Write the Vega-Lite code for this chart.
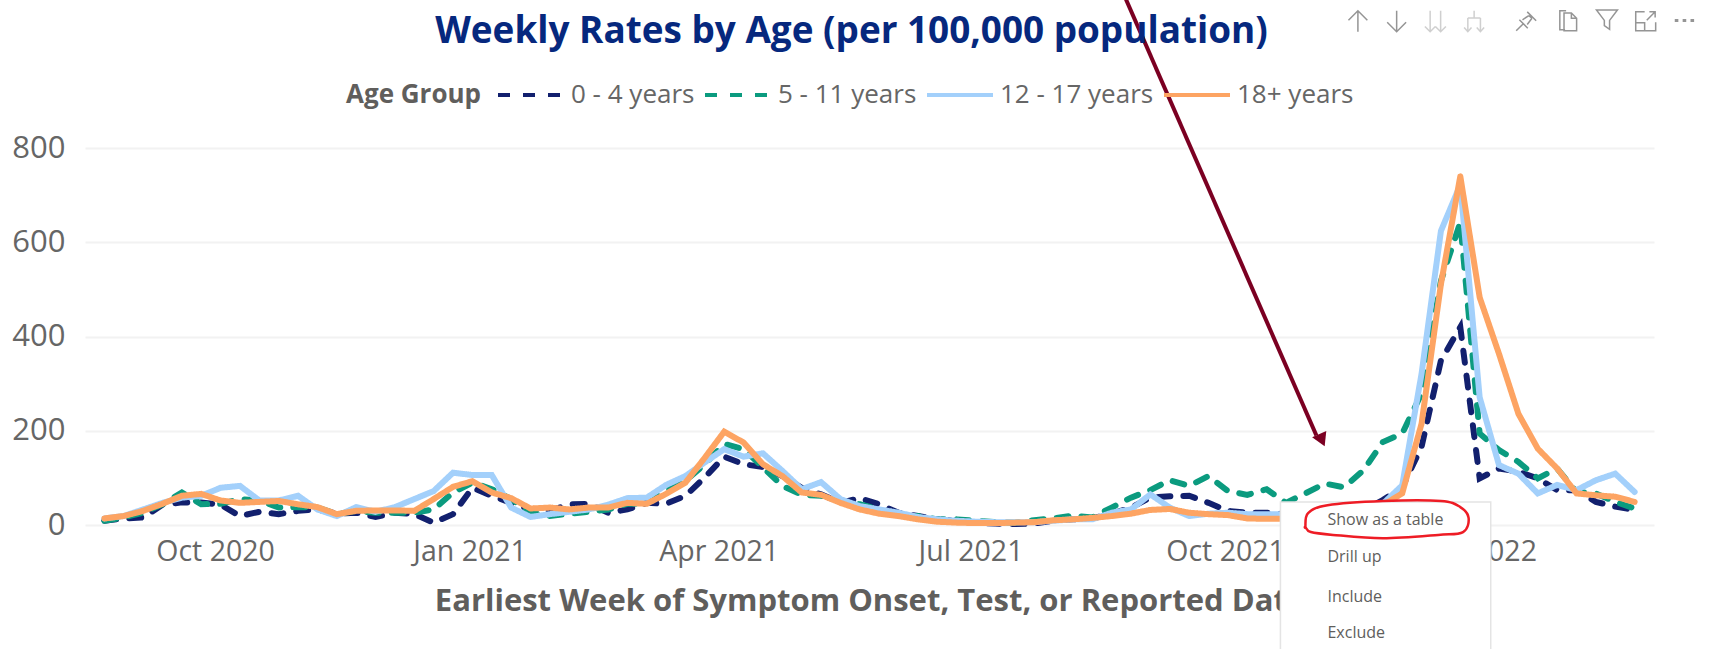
{"$schema":"https://vega.github.io/schema/vega-lite/v6.json","autosize":{"type":"none"},"width":1569,"height":377,"padding":{"left":85,"top":148,"right":75,"bottom":124},"background":"#ffffff",
"title":{"text":"Weekly Rates by Age (per 100,000 population)","font":"Open Sans","fontSize":36.9,"fontWeight":"bold","color":"#06287e","anchor":"middle","dx":-18,"offset":-55},
"config":{"view":{"stroke":null},"font":"Open Sans"},
"encoding":{
"x":{"field":"date","type":"temporal","scale":{"type":"utc","domain":["2020-08-15","2022-03-05"]},"title":"Earliest Week of Symptom Onset, Test, or Reported Date","axis":{"values":["2020-10-01","2021-01-01","2021-04-01","2021-07-01","2021-10-01","2022-01-01"],"format":"%b %Y","grid":false,"domain":false,"ticks":false,"labelFontSize":28.5,"labelColor":"#666666","labelFont":"Open Sans","labelPadding":12,"titleFontSize":31,"titleFontWeight":"bold","titleColor":"#605e5c","titleFont":"Open Sans","titlePadding":21,"labelFlush":false}},
"y":{"field":"value","type":"quantitative","scale":{"domain":[0,800],"nice":false},"title":null,"axis":{"values":[0,200,400,600,800],"domain":false,"ticks":false,"grid":true,"gridColor":"#f2f2f2","gridWidth":2,"labelFontSize":31,"labelColor":"#666666","labelFont":"Open Sans","labelPadding":20}}
},
"layer":[
{"data":{"values":[
{"date":"2020-08-22","age":"0 - 4 years","value":9},{"date":"2020-08-29","age":"0 - 4 years","value":14},{"date":"2020-09-05","age":"0 - 4 years","value":16},{"date":"2020-09-12","age":"0 - 4 years","value":43},{"date":"2020-09-19","age":"0 - 4 years","value":48},{"date":"2020-09-26","age":"0 - 4 years","value":48},{"date":"2020-10-03","age":"0 - 4 years","value":43},{"date":"2020-10-10","age":"0 - 4 years","value":19},{"date":"2020-10-17","age":"0 - 4 years","value":28},{"date":"2020-10-24","age":"0 - 4 years","value":23},{"date":"2020-10-31","age":"0 - 4 years","value":30},{"date":"2020-11-07","age":"0 - 4 years","value":33},{"date":"2020-11-14","age":"0 - 4 years","value":24},{"date":"2020-11-21","age":"0 - 4 years","value":26},{"date":"2020-11-28","age":"0 - 4 years","value":17},{"date":"2020-12-05","age":"0 - 4 years","value":26},{"date":"2020-12-12","age":"0 - 4 years","value":23},{"date":"2020-12-19","age":"0 - 4 years","value":5},{"date":"2020-12-26","age":"0 - 4 years","value":23},{"date":"2021-01-02","age":"0 - 4 years","value":79},{"date":"2021-01-09","age":"0 - 4 years","value":62},{"date":"2021-01-16","age":"0 - 4 years","value":47},{"date":"2021-01-23","age":"0 - 4 years","value":33},{"date":"2021-01-30","age":"0 - 4 years","value":30},{"date":"2021-02-06","age":"0 - 4 years","value":44},{"date":"2021-02-13","age":"0 - 4 years","value":45},{"date":"2021-02-20","age":"0 - 4 years","value":26},{"date":"2021-02-27","age":"0 - 4 years","value":33},{"date":"2021-03-06","age":"0 - 4 years","value":47},{"date":"2021-03-13","age":"0 - 4 years","value":45},{"date":"2021-03-20","age":"0 - 4 years","value":62},{"date":"2021-03-27","age":"0 - 4 years","value":101},{"date":"2021-04-03","age":"0 - 4 years","value":145},{"date":"2021-04-10","age":"0 - 4 years","value":129},{"date":"2021-04-17","age":"0 - 4 years","value":123},{"date":"2021-04-24","age":"0 - 4 years","value":104},{"date":"2021-05-01","age":"0 - 4 years","value":79},{"date":"2021-05-08","age":"0 - 4 years","value":65},{"date":"2021-05-15","age":"0 - 4 years","value":47},{"date":"2021-05-22","age":"0 - 4 years","value":57},{"date":"2021-05-29","age":"0 - 4 years","value":44},{"date":"2021-06-05","age":"0 - 4 years","value":26},{"date":"2021-06-12","age":"0 - 4 years","value":19},{"date":"2021-06-19","age":"0 - 4 years","value":12},{"date":"2021-06-26","age":"0 - 4 years","value":9},{"date":"2021-07-03","age":"0 - 4 years","value":5},{"date":"2021-07-10","age":"0 - 4 years","value":3},{"date":"2021-07-17","age":"0 - 4 years","value":2},{"date":"2021-07-24","age":"0 - 4 years","value":3},{"date":"2021-07-31","age":"0 - 4 years","value":9},{"date":"2021-08-07","age":"0 - 4 years","value":12},{"date":"2021-08-14","age":"0 - 4 years","value":14},{"date":"2021-08-21","age":"0 - 4 years","value":24},{"date":"2021-08-28","age":"0 - 4 years","value":37},{"date":"2021-09-04","age":"0 - 4 years","value":58},{"date":"2021-09-11","age":"0 - 4 years","value":61},{"date":"2021-09-18","age":"0 - 4 years","value":62},{"date":"2021-09-25","age":"0 - 4 years","value":47},{"date":"2021-10-02","age":"0 - 4 years","value":30},{"date":"2021-10-09","age":"0 - 4 years","value":26},{"date":"2021-10-16","age":"0 - 4 years","value":26},{"date":"2021-10-23","age":"0 - 4 years","value":23},{"date":"2021-10-30","age":"0 - 4 years","value":20},{"date":"2021-11-06","age":"0 - 4 years","value":18},{"date":"2021-11-13","age":"0 - 4 years","value":20},{"date":"2021-11-20","age":"0 - 4 years","value":30},{"date":"2021-11-27","age":"0 - 4 years","value":53},{"date":"2021-12-04","age":"0 - 4 years","value":80},{"date":"2021-12-11","age":"0 - 4 years","value":166},{"date":"2021-12-18","age":"0 - 4 years","value":349},{"date":"2021-12-25","age":"0 - 4 years","value":420},{"date":"2022-01-01","age":"0 - 4 years","value":99},{"date":"2022-01-08","age":"0 - 4 years","value":120},{"date":"2022-01-15","age":"0 - 4 years","value":113},{"date":"2022-01-22","age":"0 - 4 years","value":99},{"date":"2022-01-29","age":"0 - 4 years","value":74},{"date":"2022-02-05","age":"0 - 4 years","value":74},{"date":"2022-02-12","age":"0 - 4 years","value":49},{"date":"2022-02-19","age":"0 - 4 years","value":39},{"date":"2022-02-26","age":"0 - 4 years","value":32},
{"date":"2020-08-22","age":"5 - 11 years","value":9},{"date":"2020-08-29","age":"5 - 11 years","value":16},{"date":"2020-09-05","age":"5 - 11 years","value":26},{"date":"2020-09-12","age":"5 - 11 years","value":44},{"date":"2020-09-19","age":"5 - 11 years","value":69},{"date":"2020-09-26","age":"5 - 11 years","value":44},{"date":"2020-10-03","age":"5 - 11 years","value":45},{"date":"2020-10-10","age":"5 - 11 years","value":55},{"date":"2020-10-17","age":"5 - 11 years","value":52},{"date":"2020-10-24","age":"5 - 11 years","value":37},{"date":"2020-10-31","age":"5 - 11 years","value":38},{"date":"2020-11-07","age":"5 - 11 years","value":37},{"date":"2020-11-14","age":"5 - 11 years","value":23},{"date":"2020-11-21","age":"5 - 11 years","value":30},{"date":"2020-11-28","age":"5 - 11 years","value":26},{"date":"2020-12-05","age":"5 - 11 years","value":26},{"date":"2020-12-12","age":"5 - 11 years","value":26},{"date":"2020-12-19","age":"5 - 11 years","value":33},{"date":"2020-12-26","age":"5 - 11 years","value":69},{"date":"2021-01-02","age":"5 - 11 years","value":90},{"date":"2021-01-09","age":"5 - 11 years","value":76},{"date":"2021-01-16","age":"5 - 11 years","value":55},{"date":"2021-01-23","age":"5 - 11 years","value":26},{"date":"2021-01-30","age":"5 - 11 years","value":19},{"date":"2021-02-06","age":"5 - 11 years","value":24},{"date":"2021-02-13","age":"5 - 11 years","value":28},{"date":"2021-02-20","age":"5 - 11 years","value":33},{"date":"2021-02-27","age":"5 - 11 years","value":45},{"date":"2021-03-06","age":"5 - 11 years","value":45},{"date":"2021-03-13","age":"5 - 11 years","value":72},{"date":"2021-03-20","age":"5 - 11 years","value":94},{"date":"2021-03-27","age":"5 - 11 years","value":129},{"date":"2021-04-03","age":"5 - 11 years","value":172},{"date":"2021-04-10","age":"5 - 11 years","value":161},{"date":"2021-04-17","age":"5 - 11 years","value":122},{"date":"2021-04-24","age":"5 - 11 years","value":83},{"date":"2021-05-01","age":"5 - 11 years","value":64},{"date":"2021-05-08","age":"5 - 11 years","value":62},{"date":"2021-05-15","age":"5 - 11 years","value":51},{"date":"2021-05-22","age":"5 - 11 years","value":44},{"date":"2021-05-29","age":"5 - 11 years","value":33},{"date":"2021-06-05","age":"5 - 11 years","value":19},{"date":"2021-06-12","age":"5 - 11 years","value":19},{"date":"2021-06-19","age":"5 - 11 years","value":12},{"date":"2021-06-26","age":"5 - 11 years","value":12},{"date":"2021-07-03","age":"5 - 11 years","value":9},{"date":"2021-07-10","age":"5 - 11 years","value":6},{"date":"2021-07-17","age":"5 - 11 years","value":5},{"date":"2021-07-24","age":"5 - 11 years","value":10},{"date":"2021-07-31","age":"5 - 11 years","value":14},{"date":"2021-08-07","age":"5 - 11 years","value":20},{"date":"2021-08-14","age":"5 - 11 years","value":16},{"date":"2021-08-21","age":"5 - 11 years","value":37},{"date":"2021-08-28","age":"5 - 11 years","value":58},{"date":"2021-09-04","age":"5 - 11 years","value":74},{"date":"2021-09-11","age":"5 - 11 years","value":95},{"date":"2021-09-18","age":"5 - 11 years","value":83},{"date":"2021-09-25","age":"5 - 11 years","value":104},{"date":"2021-10-02","age":"5 - 11 years","value":72},{"date":"2021-10-09","age":"5 - 11 years","value":64},{"date":"2021-10-16","age":"5 - 11 years","value":76},{"date":"2021-10-23","age":"5 - 11 years","value":47},{"date":"2021-10-30","age":"5 - 11 years","value":67},{"date":"2021-11-06","age":"5 - 11 years","value":88},{"date":"2021-11-13","age":"5 - 11 years","value":80},{"date":"2021-11-20","age":"5 - 11 years","value":116},{"date":"2021-11-27","age":"5 - 11 years","value":176},{"date":"2021-12-04","age":"5 - 11 years","value":194},{"date":"2021-12-11","age":"5 - 11 years","value":279},{"date":"2021-12-18","age":"5 - 11 years","value":518},{"date":"2021-12-25","age":"5 - 11 years","value":642},{"date":"2022-01-01","age":"5 - 11 years","value":194},{"date":"2022-01-08","age":"5 - 11 years","value":159},{"date":"2022-01-15","age":"5 - 11 years","value":134},{"date":"2022-01-22","age":"5 - 11 years","value":99},{"date":"2022-01-29","age":"5 - 11 years","value":120},{"date":"2022-02-05","age":"5 - 11 years","value":70},{"date":"2022-02-12","age":"5 - 11 years","value":67},{"date":"2022-02-19","age":"5 - 11 years","value":49},{"date":"2022-02-26","age":"5 - 11 years","value":35},
{"date":"2020-08-22","age":"12 - 17 years","value":14},{"date":"2020-08-29","age":"12 - 17 years","value":19},{"date":"2020-09-05","age":"12 - 17 years","value":33},{"date":"2020-09-12","age":"12 - 17 years","value":47},{"date":"2020-09-19","age":"12 - 17 years","value":58},{"date":"2020-09-26","age":"12 - 17 years","value":62},{"date":"2020-10-03","age":"12 - 17 years","value":79},{"date":"2020-10-10","age":"12 - 17 years","value":83},{"date":"2020-10-17","age":"12 - 17 years","value":52},{"date":"2020-10-24","age":"12 - 17 years","value":52},{"date":"2020-10-31","age":"12 - 17 years","value":62},{"date":"2020-11-07","age":"12 - 17 years","value":33},{"date":"2020-11-14","age":"12 - 17 years","value":19},{"date":"2020-11-21","age":"12 - 17 years","value":38},{"date":"2020-11-28","age":"12 - 17 years","value":28},{"date":"2020-12-05","age":"12 - 17 years","value":38},{"date":"2020-12-12","age":"12 - 17 years","value":55},{"date":"2020-12-19","age":"12 - 17 years","value":72},{"date":"2020-12-26","age":"12 - 17 years","value":111},{"date":"2021-01-02","age":"12 - 17 years","value":106},{"date":"2021-01-09","age":"12 - 17 years","value":106},{"date":"2021-01-16","age":"12 - 17 years","value":37},{"date":"2021-01-23","age":"12 - 17 years","value":17},{"date":"2021-01-30","age":"12 - 17 years","value":23},{"date":"2021-02-06","age":"12 - 17 years","value":28},{"date":"2021-02-13","age":"12 - 17 years","value":33},{"date":"2021-02-20","age":"12 - 17 years","value":43},{"date":"2021-02-27","age":"12 - 17 years","value":57},{"date":"2021-03-06","age":"12 - 17 years","value":58},{"date":"2021-03-13","age":"12 - 17 years","value":85},{"date":"2021-03-20","age":"12 - 17 years","value":104},{"date":"2021-03-27","age":"12 - 17 years","value":133},{"date":"2021-04-03","age":"12 - 17 years","value":161},{"date":"2021-04-10","age":"12 - 17 years","value":145},{"date":"2021-04-17","age":"12 - 17 years","value":152},{"date":"2021-04-24","age":"12 - 17 years","value":115},{"date":"2021-05-01","age":"12 - 17 years","value":76},{"date":"2021-05-08","age":"12 - 17 years","value":91},{"date":"2021-05-15","age":"12 - 17 years","value":55},{"date":"2021-05-22","age":"12 - 17 years","value":40},{"date":"2021-05-29","age":"12 - 17 years","value":33},{"date":"2021-06-05","age":"12 - 17 years","value":26},{"date":"2021-06-12","age":"12 - 17 years","value":17},{"date":"2021-06-19","age":"12 - 17 years","value":12},{"date":"2021-06-26","age":"12 - 17 years","value":9},{"date":"2021-07-03","age":"12 - 17 years","value":7},{"date":"2021-07-10","age":"12 - 17 years","value":6},{"date":"2021-07-17","age":"12 - 17 years","value":6},{"date":"2021-07-24","age":"12 - 17 years","value":6},{"date":"2021-07-31","age":"12 - 17 years","value":9},{"date":"2021-08-07","age":"12 - 17 years","value":12},{"date":"2021-08-14","age":"12 - 17 years","value":12},{"date":"2021-08-21","age":"12 - 17 years","value":26},{"date":"2021-08-28","age":"12 - 17 years","value":33},{"date":"2021-09-04","age":"12 - 17 years","value":65},{"date":"2021-09-11","age":"12 - 17 years","value":37},{"date":"2021-09-18","age":"12 - 17 years","value":19},{"date":"2021-09-25","age":"12 - 17 years","value":24},{"date":"2021-10-02","age":"12 - 17 years","value":26},{"date":"2021-10-09","age":"12 - 17 years","value":23},{"date":"2021-10-16","age":"12 - 17 years","value":23},{"date":"2021-10-23","age":"12 - 17 years","value":23},{"date":"2021-10-30","age":"12 - 17 years","value":22},{"date":"2021-11-06","age":"12 - 17 years","value":22},{"date":"2021-11-13","age":"12 - 17 years","value":24},{"date":"2021-11-20","age":"12 - 17 years","value":32},{"date":"2021-11-27","age":"12 - 17 years","value":45},{"date":"2021-12-04","age":"12 - 17 years","value":84},{"date":"2021-12-11","age":"12 - 17 years","value":321},{"date":"2021-12-18","age":"12 - 17 years","value":624},{"date":"2021-12-25","age":"12 - 17 years","value":722},{"date":"2022-01-01","age":"12 - 17 years","value":271},{"date":"2022-01-08","age":"12 - 17 years","value":127},{"date":"2022-01-15","age":"12 - 17 years","value":109},{"date":"2022-01-22","age":"12 - 17 years","value":67},{"date":"2022-01-29","age":"12 - 17 years","value":85},{"date":"2022-02-05","age":"12 - 17 years","value":74},{"date":"2022-02-12","age":"12 - 17 years","value":95},{"date":"2022-02-19","age":"12 - 17 years","value":109},{"date":"2022-02-26","age":"12 - 17 years","value":70},
{"date":"2020-08-22","age":"18+ years","value":14},{"date":"2020-08-29","age":"18+ years","value":19},{"date":"2020-09-05","age":"18+ years","value":30},{"date":"2020-09-12","age":"18+ years","value":45},{"date":"2020-09-19","age":"18+ years","value":62},{"date":"2020-09-26","age":"18+ years","value":66},{"date":"2020-10-03","age":"18+ years","value":52},{"date":"2020-10-10","age":"18+ years","value":47},{"date":"2020-10-17","age":"18+ years","value":49},{"date":"2020-10-24","age":"18+ years","value":51},{"date":"2020-10-31","age":"18+ years","value":44},{"date":"2020-11-07","age":"18+ years","value":38},{"date":"2020-11-14","age":"18+ years","value":23},{"date":"2020-11-21","age":"18+ years","value":30},{"date":"2020-11-28","age":"18+ years","value":31},{"date":"2020-12-05","age":"18+ years","value":31},{"date":"2020-12-12","age":"18+ years","value":30},{"date":"2020-12-19","age":"18+ years","value":55},{"date":"2020-12-26","age":"18+ years","value":81},{"date":"2021-01-02","age":"18+ years","value":93},{"date":"2021-01-09","age":"18+ years","value":69},{"date":"2021-01-16","age":"18+ years","value":57},{"date":"2021-01-23","age":"18+ years","value":35},{"date":"2021-01-30","age":"18+ years","value":37},{"date":"2021-02-06","age":"18+ years","value":33},{"date":"2021-02-13","age":"18+ years","value":37},{"date":"2021-02-20","age":"18+ years","value":37},{"date":"2021-02-27","age":"18+ years","value":47},{"date":"2021-03-06","age":"18+ years","value":45},{"date":"2021-03-13","age":"18+ years","value":66},{"date":"2021-03-20","age":"18+ years","value":90},{"date":"2021-03-27","age":"18+ years","value":143},{"date":"2021-04-03","age":"18+ years","value":198},{"date":"2021-04-10","age":"18+ years","value":175},{"date":"2021-04-17","age":"18+ years","value":129},{"date":"2021-04-24","age":"18+ years","value":104},{"date":"2021-05-01","age":"18+ years","value":69},{"date":"2021-05-08","age":"18+ years","value":64},{"date":"2021-05-15","age":"18+ years","value":47},{"date":"2021-05-22","age":"18+ years","value":33},{"date":"2021-05-29","age":"18+ years","value":24},{"date":"2021-06-05","age":"18+ years","value":19},{"date":"2021-06-12","age":"18+ years","value":12},{"date":"2021-06-19","age":"18+ years","value":7},{"date":"2021-06-26","age":"18+ years","value":5},{"date":"2021-07-03","age":"18+ years","value":4},{"date":"2021-07-10","age":"18+ years","value":4},{"date":"2021-07-17","age":"18+ years","value":5},{"date":"2021-07-24","age":"18+ years","value":6},{"date":"2021-07-31","age":"18+ years","value":10},{"date":"2021-08-07","age":"18+ years","value":12},{"date":"2021-08-14","age":"18+ years","value":15},{"date":"2021-08-21","age":"18+ years","value":19},{"date":"2021-08-28","age":"18+ years","value":24},{"date":"2021-09-04","age":"18+ years","value":32},{"date":"2021-09-11","age":"18+ years","value":34},{"date":"2021-09-18","age":"18+ years","value":26},{"date":"2021-09-25","age":"18+ years","value":23},{"date":"2021-10-02","age":"18+ years","value":21},{"date":"2021-10-09","age":"18+ years","value":14},{"date":"2021-10-16","age":"18+ years","value":13},{"date":"2021-10-23","age":"18+ years","value":13},{"date":"2021-10-30","age":"18+ years","value":13},{"date":"2021-11-06","age":"18+ years","value":14},{"date":"2021-11-13","age":"18+ years","value":17},{"date":"2021-11-20","age":"18+ years","value":25},{"date":"2021-11-27","age":"18+ years","value":42},{"date":"2021-12-04","age":"18+ years","value":67},{"date":"2021-12-11","age":"18+ years","value":215},{"date":"2021-12-18","age":"18+ years","value":511},{"date":"2021-12-25","age":"18+ years","value":740},{"date":"2022-01-01","age":"18+ years","value":483},{"date":"2022-01-08","age":"18+ years","value":363},{"date":"2022-01-15","age":"18+ years","value":236},{"date":"2022-01-22","age":"18+ years","value":162},{"date":"2022-01-29","age":"18+ years","value":120},{"date":"2022-02-05","age":"18+ years","value":67},{"date":"2022-02-12","age":"18+ years","value":63},{"date":"2022-02-19","age":"18+ years","value":60},{"date":"2022-02-26","age":"18+ years","value":49}
]},
"mark":{"type":"line","strokeWidth":6,"strokeCap":"round","strokeJoin":"miter","clip":false},
"encoding":{
"color":{"field":"age","type":"nominal","scale":{"domain":["0 - 4 years","5 - 11 years","12 - 17 years","18+ years"],"range":["#12206e","#0b9b7f","#a3d0fb","#fda463"]},"legend":{"orient":"none","legendX":261,"legendY":-66,"direction":"horizontal","title":"Age Group","titleOrient":"left","titleFont":"Open Sans","titleFontSize":26,"titleFontWeight":"bold","titleColor":"#605e5c","labelFont":"Open Sans","labelFontSize":26,"labelColor":"#666666","symbolType":"M-3,0L3,0","symbolSize":484,"symbolStrokeWidth":4,"labelOffset":27,"columnPadding":2,"titlePadding":36,"labelLimit":300}},
"strokeDash":{"field":"age","type":"nominal","scale":{"domain":["0 - 4 years","5 - 11 years","12 - 17 years","18+ years"],"range":[[12,13],[12,13],[1,0],[1,0]]}}
}},
{"data":{"values":[{"date":"2021-10-21","value":49,"date2":"2022-01-05","value2":-300}]},"mark":{"type":"rect","fill":"#ffffff","stroke":"#e4e4e4","strokeWidth":1.5,"clip":false},"encoding":{"x2":{"field":"date2"},"y2":{"field":"value2"}}},
{"data":{"values":[{"date":"2021-11-07","value":10.6,"item":"Show as a table"},{"date":"2021-11-07","value":-68,"item":"Drill up"},{"date":"2021-11-07","value":-153,"item":"Include"},{"date":"2021-11-07","value":-229,"item":"Exclude"}]},"mark":{"type":"text","align":"left","baseline":"middle","font":"Open Sans","fontSize":16,"color":"#605e5c","clip":false},"encoding":{"text":{"field":"item"}}},
{"data":{"values":[{"k":1,"date":"2021-10-30","value":-4},{"k":2,"date":"2021-10-31","value":25},{"k":3,"date":"2021-11-07","value":42},{"k":4,"date":"2021-11-27","value":51},{"k":5,"date":"2021-12-18","value":51},{"k":6,"date":"2021-12-25","value":38},{"k":7,"date":"2021-12-28","value":15},{"k":8,"date":"2021-12-26","value":-15},{"k":9,"date":"2021-12-17","value":-21},{"k":10,"date":"2021-11-27","value":-28},{"k":11,"date":"2021-11-09","value":-21},{"k":12,"date":"2021-11-01","value":-15},{"k":13,"date":"2021-10-30","value":-4}]},"mark":{"type":"line","color":"#ee1c25","strokeWidth":2.5,"interpolate":"cardinal-closed","clip":false},"encoding":{"order":{"field":"k","type":"quantitative"}}},
{"data":{"values":[{"date":"2021-08-26","value":1118,"date2":"2021-11-03","value2":190}]},"mark":{"type":"rule","color":"#7b0022","strokeWidth":4,"clip":false},"encoding":{"x2":{"field":"date2"},"y2":{"field":"value2"}}},
{"data":{"values":[{"date":"2021-11-05","value":180}]},"mark":{"type":"point","shape":"triangle-down","angle":336,"size":240,"filled":true,"fill":"#7b0022","stroke":null,"opacity":1,"clip":false}},
{"data":{"values":[{"date":"2021-11-18","value":1069,"icon":"up","state":"on"},{"date":"2021-12-02","value":1069,"icon":"down","state":"on"},{"date":"2021-12-16","value":1069,"icon":"double","state":"off"},{"date":"2021-12-30","value":1069,"icon":"drill","state":"off"},{"date":"2022-01-18","value":1071,"icon":"pin","state":"on"},{"date":"2022-02-02","value":1071,"icon":"copy","state":"on"},{"date":"2022-02-16","value":1073,"icon":"funnel","state":"on"},{"date":"2022-03-02","value":1069,"icon":"focus","state":"on"},{"date":"2022-03-16","value":1071,"icon":"dots","state":"on"}]},
"mark":{"type":"point","filled":false,"size":441,"stroke":"#8a8a8a","strokeWidth":1.5,"clip":false},
"encoding":{"shape":{"field":"icon","type":"nominal","legend":null,"scale":{"domain":["up","down","double","drill","pin","copy","funnel","focus","dots"],"range":["M0,1L0,-1M-.9,-.1L0,-1L.9,-.1","M0,-1L0,1M-.9,.1L0,1L.9,.1","M-.5,-1L-.5,1M-1,.5L-.5,1L0,.5M.5,-1L.5,1M0,.5L.5,1L1,.5","M0,-1L0,-.3M-.6,-.3L.6,-.3M-.6,-.3L-.6,1M.6,-.3L.6,1M-.95,.6L-.6,1L-.25,.6M.25,.6L.6,1L.95,.6","M-1,1L-.3,.3M-.7,-.05L.1,.75M-.4,-.05L.2,-.45M.05,.4L.5,-.2M.05,-.8L.9,.05M.2,-.45L.5,-.2","M-.3,.9L-.8,.9L-.8,-.9L-.2,-.9M-.4,-.7L.3,-.7L.8,-.2L.8,1L-.4,1ZM.3,-.7L.3,-.2L.8,-.2","M-1,-.9L1,-.9L.25,.1L.25,.95L-.25,.6L-.25,.1Z","M-.1,-.9L-.95,-.9L-.95,.9L.95,.9L.95,.1M-.95,.15L-.1,.15L-.1,.9M.1,-.1L.85,-.85M.35,-.9L.9,-.9L.9,-.35","M-.85,-.05L-.65,-.05L-.65,.1L-.85,.1ZM-.1,-.05L.1,-.05L.1,.1L-.1,.1ZM.65,-.05L.85,-.05L.85,.1L.65,.1Z"]}},
"opacity":{"field":"state","type":"nominal","legend":null,"scale":{"domain":["on","off"],"range":[0.9,0.4]}}}}
]}
